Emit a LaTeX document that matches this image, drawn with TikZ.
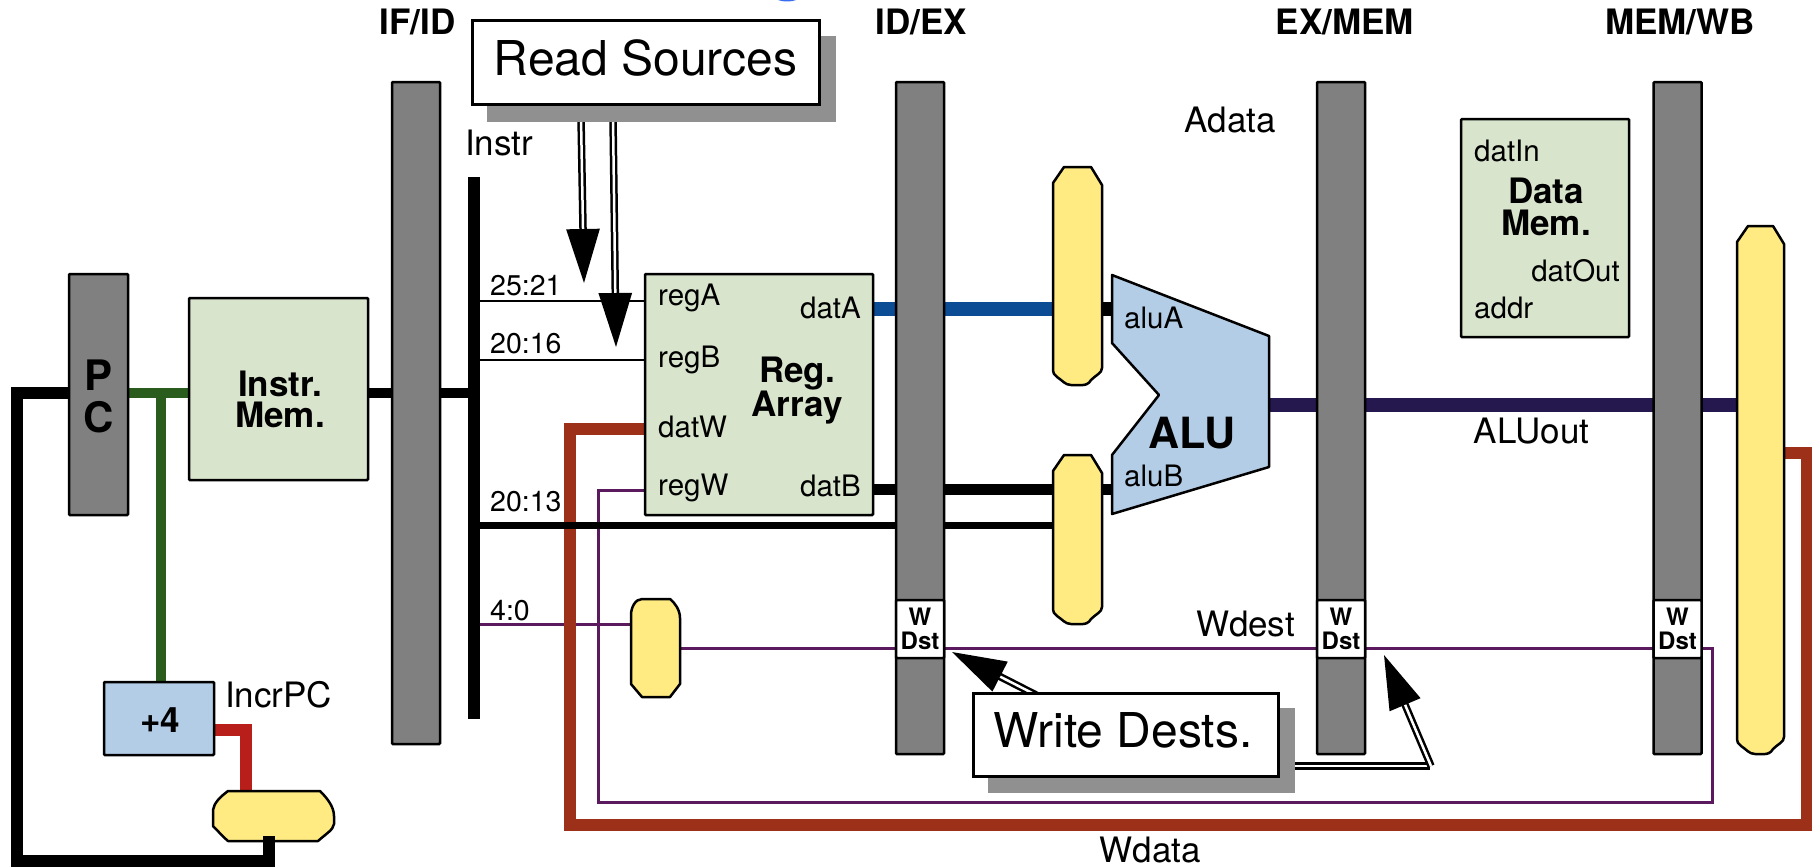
\documentclass[tikz,border=0pt]{standalone}
\usepackage{fontspec}
\setmainfont{TeX Gyre Heros}
\usetikzlibrary{arrows.meta}
\definecolor{barC}{HTML}{808080}
\definecolor{shadowC}{HTML}{909090}
\definecolor{greenC}{HTML}{D8E4CC}
\definecolor{blueC}{HTML}{B4CDE6}
\definecolor{yellowC}{HTML}{FFEB82}
\definecolor{pcgreen}{HTML}{2A5C1E}
\definecolor{purpleC}{HTML}{5C1A5E}
\definecolor{brownC}{HTML}{9C3018}
\definecolor{redC}{HTML}{B81E1A}
\definecolor{dblue}{HTML}{0C4C94}
\definecolor{navyC}{HTML}{25184F}
\definecolor{topblue}{HTML}{3A6CF0}
\newcommand{\vmux}[5]{%
  \coordinate (#1) at ({(#2+#3)/2},{(#4+#5)/2});
  \path[muxst] ({#2},{#4+16}) -- ({#2+11},{#4}) -- ({#3-11},{#4}) -- ({#3},{#4+18}) -- ({#3},{#5-17})
    .. controls ({#3},{#5-12}) and ({#3-6},{#5-10}) .. ({#3-11},{#5-5})
    .. controls ({#3-13},{#5-1}) and ({#3-17},{#5}) .. ({#3-19},{#5})
    -- ({#2+18},{#5})
    .. controls ({#2+12},{#5}) and ({#2+9},{#5-5}) .. ({#2+4},{#5-8})
    .. controls ({#2+1},{#5-10}) and ({#2},{#5-12}) .. ({#2},{#5-17}) -- cycle;}
\tikzset{
  boxst/.style={draw=black,line width=2.5pt,inner sep=0pt,rounded corners=1pt},
  regbar/.style={boxst,fill=barC,minimum width=48pt},
  wdst/.style={boxst,fill=white,minimum width=48pt,minimum height=58pt,align=center,
    font=\fontsize{24}{24}\selectfont\bfseries},
  gbox/.style={boxst,fill=greenC},
  bbox/.style={boxst,fill=blueC},
  muxst/.style={draw=black,line width=2.5pt,fill=yellowC,line join=round},
  note/.style={draw=black,line width=3pt,fill=white,inner sep=0pt},
  shadowbox/.style={fill=shadowC,inner sep=0pt},
  wire/.style={line join=miter,line cap=butt},
  thinw/.style={wire,draw=purpleC,line width=3pt},
  plain/.style={wire,draw=black,line width=2.5pt},
  dbl/.style={double=white,draw=black,line width=2.5pt,double distance=2.5pt,
    -{Triangle[length=54pt,width=33pt]}},
  dblplain/.style={double=white,draw=black,line width=3pt,double distance=2.5pt},
  hdr/.style={anchor=base,inner sep=0pt,font=\fontsize{35}{36}\selectfont\bfseries},
  big/.style={anchor=base,inner sep=0pt,font=\fontsize{35}{36}\selectfont},
  small/.style={anchor=base west,inner sep=0pt,font=\fontsize{29.5}{30}\selectfont},
  smallr/.style={anchor=base east,inner sep=0pt,font=\fontsize{29.5}{30}\selectfont},
  title/.style={anchor=base,inner sep=0pt,font=\fontsize{48}{50}\selectfont},
}
\begin{document}
\begin{tikzpicture}[x=1pt,y=-1pt]
\useasboundingbox (0,0) rectangle (1812,867);
\fill[topblue] (778,0) .. controls (782,2) and (792,2) .. (796,0) -- cycle;

% connection points
\coordinate (pcL) at (69,393);
\coordinate (lc1) at (17,393);
\coordinate (lc2) at (17,861);
\coordinate (lc3) at (269,861);
\coordinate (muxPCb) at (269,836);
\coordinate (pcR) at (128,393);
\coordinate (imL) at (189,393);
\coordinate (gT) at (161,393);
\coordinate (incT) at (161,682);
\coordinate (imR) at (368,393);
\coordinate (busT) at (474,177);
\coordinate (busB) at (474,719);
\coordinate (busM) at (474,393);
\coordinate (incR) at (214,729.5);
\coordinate (rc1) at (245.5,729.5);
\coordinate (muxPCt) at (245.5,791);
\coordinate (b25) at (474,301);
\coordinate (regAin) at (645,301);
\coordinate (b20) at (474,360);
\coordinate (regBin) at (645,360);
\coordinate (b13) at (474,525.5);
\coordinate (muxB13) at (1053,525.5);
\coordinate (b4) at (474,624);
\coordinate (muxW4) at (631,624);
\coordinate (muxWout) at (680,648);
\coordinate (pr) at (1712,648);
\coordinate (pr2) at (1712,802);
\coordinate (pl2) at (598,802);
\coordinate (pl1) at (598,490);
\coordinate (regWin) at (645,490);
\coordinate (datWin) at (645,429);
\coordinate (bw1) at (570,429);
\coordinate (bw2) at (570,825);
\coordinate (bw3) at (1807,825);
\coordinate (bw4) at (1807,453);
\coordinate (muxBigR) at (1784,453);
\coordinate (datAout) at (873,309);
\coordinate (muxAin) at (1053,309);
\coordinate (muxAout) at (1102,309);
\coordinate (aluAin) at (1112,309);
\coordinate (datBout) at (873,489.5);
\coordinate (muxBin) at (1053,489.5);
\coordinate (muxBout) at (1102,489.5);
\coordinate (aluBin) at (1112,489.5);
\coordinate (aluOut) at (1269,405);
\coordinate (muxBigL) at (1737,405);

% wires (back to front)
\draw[thinw] (muxWout) -- (pr) -- (pr2) -- (pl2) -- (pl1) -- (regWin);
\draw[thinw] (b4) -- (muxW4);
\draw[wire,draw=brownC,line width=11.5pt] (datWin) -- (bw1) -- (bw2) -- (bw3) -- (bw4) -- (muxBigR);
\draw[wire,black,line width=11.5pt] (busT) -- (busB);
\draw[wire,black,line width=10pt] (imR) -- (busM);
\draw[wire,black,line width=7.5pt] (b13) -- (muxB13);
\draw[plain] (b25) -- (regAin);
\draw[plain] (b20) -- (regBin);
\draw[wire,pcgreen,line width=10pt] (pcR) -- (imL);
\draw[wire,pcgreen,line width=10pt] (gT) -- (incT);
\draw[wire,redC,line width=12pt] (incR) -- (rc1) -- (muxPCt);
\draw[wire,dblue,line width=14pt] (datAout) -- (muxAin);
\draw[wire,black,line width=14pt] (muxAout) -- (aluAin);
\draw[wire,black,line width=11pt] (datBout) -- (muxBin);
\draw[wire,black,line width=11pt] (muxBout) -- (aluBin);
\draw[wire,navyC,line width=14pt] (aluOut) -- (muxBigL);

% registers
\node[regbar,minimum height=241pt,minimum width=59pt] (pc) at (98.5,394.5) {};
\node[regbar,minimum height=662pt] (ifid) at (416,413) {};
\node[regbar,minimum height=672pt] (idex) at (920,418) {};
\node[regbar,minimum height=672pt] (exmem) at (1341,418) {};
\node[regbar,minimum height=672pt] (memwb) at (1677.5,418) {};
\node[wdst] (wd1) at (920,629) {W\\Dst};
\node[wdst] (wd2) at (1341,629) {W\\Dst};
\node[wdst] (wd3) at (1677.5,629) {W\\Dst};
\node[hdr] (hIFID) at (417.5,35) {IF/ID};
\node[hdr] (hIDEX) at (921,35) {ID/EX};
\node[hdr] (hEXMEM) at (1345,35) {EX/MEM};
\node[hdr] (hMEMWB) at (1680,35) {MEM/WB};
\node[hdr,font=\fontsize{42}{44}\selectfont\bfseries] (pP) at (99,390) {P};
\node[hdr,font=\fontsize{42}{44}\selectfont\bfseries] (pC) at (99,432) {C};

% blocks
\node[gbox,minimum width=179pt,minimum height=182pt] (im) at (278.5,389) {};
\node[hdr] (imA) at (280,396) {Instr.};
\node[hdr] (imB) at (280,427) {Mem.};
\node[bbox,minimum width=110pt,minimum height=73pt] (inc) at (159,718.5) {};
\node[hdr] (incL) at (160,732) {+4};
\node[big,anchor=base west] (incPC) at (225,707) {IncrPC};
\node[gbox,minimum width=228pt,minimum height=241pt] (rf) at (759,394.5) {};
\node[small] (rA) at (658,305) {regA};
\node[small] (rB) at (658,367) {regB};
\node[small] (rW) at (658,437) {datW};
\node[small] (rR) at (658,495) {regW};
\node[smallr] (dA) at (861,318) {datA};
\node[smallr] (dB) at (861,496) {datB};
\node[hdr] (rfA) at (797,382) {Reg.};
\node[hdr] (rfB) at (797,416) {Array};
\node[gbox,minimum width=168pt,minimum height=218pt] (dm) at (1545,228) {};
\node[small] (dI) at (1474,161) {datIn};
\node[smallr] (dO) at (1620,281) {datOut};
\node[small] (dD) at (1474,318) {addr};
\node[hdr] (dmA) at (1546,203) {Data};
\node[hdr] (dmB) at (1546,235) {Mem.};

% muxes
\vmux{muxA}{1053}{1102}{167}{385}
\vmux{muxB}{1053}{1102}{455}{624}
\coordinate (muxW) at (655.5,648);
\path[muxst] (631,615) .. controls (631,608) and (635,599) .. (642,599) -- (670,599)
  .. controls (675,603) and (680,610) .. (680,618) -- (680,684)
  -- (670,697) -- (642,697) -- (631,684) -- cycle;
\vmux{muxBig}{1737}{1784}{226}{754}
\path[muxst] (213,810) .. controls (214,803) and (220,797) .. (228,791) -- (320,791)
  .. controls (326,797) and (334,806) .. (334,816) -- (334,824)
  .. controls (333,830) and (327,833) .. (318,841) -- (228,841)
  .. controls (223,837) and (219,832) .. (213,826) -- cycle;
\draw[wire,black,line width=12pt] (lc3) -- (muxPCb);
\draw[wire,black,line width=12pt] (pcL) -- (lc1) -- (lc2) -- (lc3) -- ([xshift=6pt]lc3);

% ALU
\path[draw=black,line width=2.5pt,fill=blueC,line join=round]
  (1112,275) -- (1269,336) -- (1269,467) -- (1112,514) -- (1112,455) -- (1159,395) -- (1112,343) -- cycle;
\node[small] (aA) at (1124,328) {aluA};
\node[small] (aB) at (1124,486) {aluB};
\node[hdr,font=\fontsize{43}{44}\selectfont\bfseries] (aluT) at (1192,448) {ALU};

% labels
\node[big,anchor=base west] (lInstr) at (465,155) {Instr};
\node[small,font=\fontsize{28.5}{30}\selectfont] (l25) at (490,295) {25:21};
\node[small,font=\fontsize{28.5}{30}\selectfont] (l20) at (490,353) {20:16};
\node[small,font=\fontsize{28.5}{30}\selectfont] (l13) at (490,511) {20:13};
\node[small,font=\fontsize{28.5}{30}\selectfont] (l4) at (490,620) {4:0};
\node[big] (lAd) at (1230.5,132) {Adata};
\node[big] (lAO) at (1531.5,443) {ALUout};
\node[big] (lWd) at (1245.5,636) {Wdest};
\node[big] (lWD) at (1150.5,862) {Wdata};

% read sources note
\coordinate (ra1) at (581,118);
\coordinate (ra2) at (584,283);
\coordinate (rb1) at (613,118);
\coordinate (rb2) at (616,347);
\draw[dbl] (ra1) -- (ra2);
\draw[dbl] (rb1) -- (rb2);
\node[shadowbox,minimum width=349pt,minimum height=86pt] (rsS) at (661.5,79) {};
\node[note,minimum width=347pt,minimum height=83pt] (rs) at (645.5,62.5) {};
\node[title] (rsT) at (645.5,76) {Read Sources};

% write dests note
\coordinate (wa1) at (1040,697);
\coordinate (wa2) at (952,652);
\coordinate (wb0) at (1290,766);
\coordinate (wb1) at (1430,766);
\coordinate (wb2) at (1431,766);
\coordinate (wb3) at (1384,655);
\draw[dbl] (wa1) -- (wa2);
\draw[dblplain] (wb0) -- (wb1);
\draw[dbl] (wb2) -- (wb3);
\node[shadowbox,minimum width=307pt,minimum height=85pt] (wsS) at (1141.5,750.5) {};
\node[note,minimum width=305pt,minimum height=83pt] (ws) at (1125.5,734.5) {};
\node[title] (wsT) at (1123,747) {Write Dests.};
\end{tikzpicture}
\end{document}
